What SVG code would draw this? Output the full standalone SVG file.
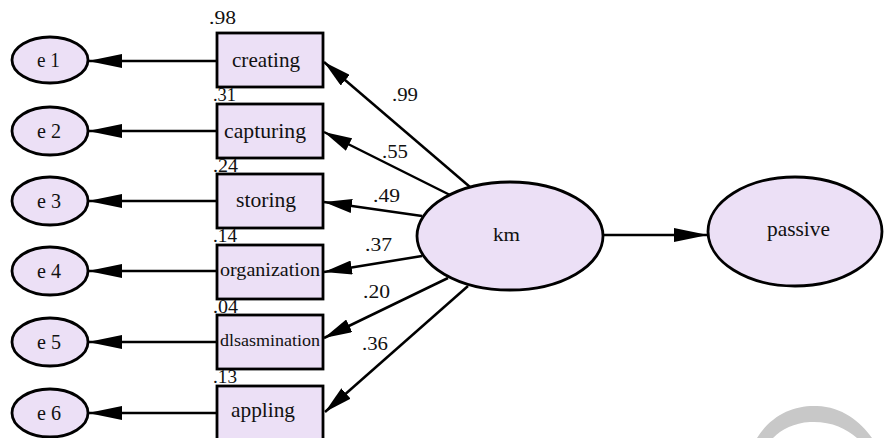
<svg xmlns="http://www.w3.org/2000/svg" width="885" height="438" viewBox="0 0 885 438">
<defs>
<style>
.n{fill:#ece0f6;stroke:#000;stroke-width:2.8}
.c line{stroke:#000;stroke-width:2.5}
.t{font-family:"Liberation Serif","Times New Roman",serif;font-size:18px;fill:#111}
.b{font-size:21px}
.big{marker-end:url(#ah)}
.sm{marker-end:url(#as)}
</style>
<marker id="ah" viewBox="0 0 34 14" markerWidth="34" markerHeight="14" refX="34" refY="7" orient="auto" markerUnits="userSpaceOnUse"><path d="M0,0 L34,7 L0,14 Z" fill="#000"/></marker>
<marker id="as" viewBox="0 0 28 14" markerWidth="28" markerHeight="14" refX="28" refY="7" orient="auto" markerUnits="userSpaceOnUse"><path d="M0,0 L28,7 L0,14 Z" fill="#000"/></marker>
</defs>
<rect width="885" height="438" fill="#fff"/>
<path d="M757,438 C772,414 795,405 817,406 C842,407 860,421 872,438 L857,438 C846,428 830,421 810,422 C794,423 782,429 773,438 Z" fill="#c8c8c8"/>
<g class="c">
<line class="big" x1="217" y1="61" x2="88" y2="61"/>
<line class="big" x1="217" y1="131" x2="88" y2="131"/>
<line class="big" x1="217" y1="201" x2="88" y2="201"/>
<line class="big" x1="217" y1="271" x2="88" y2="271"/>
<line class="big" x1="217" y1="342" x2="88" y2="342"/>
<line class="big" x1="217" y1="413" x2="88" y2="413"/>
<line class="sm" x1="470" y1="187" x2="324" y2="62"/>
<line class="sm" x1="450" y1="195" x2="324" y2="132"/>
<line class="sm" x1="422" y1="216" x2="324" y2="202"/>
<line class="sm" x1="422" y1="256" x2="324" y2="272"/>
<line class="sm" x1="448" y1="278" x2="324" y2="338"/>
<line class="sm" x1="468" y1="286" x2="325" y2="412"/>
<line class="big" x1="603" y1="235" x2="708" y2="235"/>
</g>
<g>
<text class="t" x="392" y="101" textLength="26" lengthAdjust="spacingAndGlyphs">.99</text>
<text class="t" x="382" y="158" textLength="26" lengthAdjust="spacingAndGlyphs">.55</text>
<text class="t" x="373" y="202" textLength="27" lengthAdjust="spacingAndGlyphs">.49</text>
<text class="t" x="365" y="251" textLength="27" lengthAdjust="spacingAndGlyphs">.37</text>
<text class="t" x="363" y="298" textLength="27" lengthAdjust="spacingAndGlyphs">.20</text>
<text class="t" x="362" y="350" textLength="26" lengthAdjust="spacingAndGlyphs">.36</text>
</g>
<g id="e1"><ellipse class="n" cx="50" cy="60" rx="38" ry="23"/><text class="t b" x="37" y="67" textLength="23" lengthAdjust="spacingAndGlyphs">e 1</text></g>
<g id="e2"><ellipse class="n" cx="50" cy="131" rx="38" ry="24"/><text class="t b" x="37" y="138" textLength="24" lengthAdjust="spacingAndGlyphs">e 2</text></g>
<g id="e3"><ellipse class="n" cx="50" cy="201" rx="38" ry="24"/><text class="t b" x="37" y="208" textLength="24" lengthAdjust="spacingAndGlyphs">e 3</text></g>
<g id="e4"><ellipse class="n" cx="50" cy="271" rx="38" ry="24"/><text class="t b" x="37" y="278" textLength="24" lengthAdjust="spacingAndGlyphs">e 4</text></g>
<g id="e5"><ellipse class="n" cx="50" cy="342" rx="38" ry="24"/><text class="t b" x="37" y="349" textLength="24" lengthAdjust="spacingAndGlyphs">e 5</text></g>
<g id="e6"><ellipse class="n" cx="50" cy="413" rx="38" ry="24"/><text class="t b" x="37" y="420" textLength="24" lengthAdjust="spacingAndGlyphs">e 6</text></g>
<g id="creating"><rect class="n" x="217" y="33" width="106" height="54"/><text class="t b" x="232" y="67" textLength="68" lengthAdjust="spacingAndGlyphs">creating</text><text class="t" x="209" y="24" textLength="27" lengthAdjust="spacingAndGlyphs">.98</text></g>
<g id="capturing"><rect class="n" x="217" y="104" width="106" height="54"/><text class="t b" x="224" y="138" textLength="82" lengthAdjust="spacingAndGlyphs">capturing</text><text class="t" x="213" y="101" textLength="23" lengthAdjust="spacingAndGlyphs">.31</text></g>
<g id="storing"><rect class="n" x="217" y="174" width="106" height="54"/><text class="t b" x="236" y="207" textLength="60" lengthAdjust="spacingAndGlyphs">storing</text><text class="t" x="213" y="172" textLength="25" lengthAdjust="spacingAndGlyphs">.24</text></g>
<g id="organization"><rect class="n" x="217" y="245" width="106" height="54"/><text class="t" x="220" y="276" textLength="100" lengthAdjust="spacingAndGlyphs" style="font-size:19px">organization</text><text class="t" x="213" y="242" textLength="24" lengthAdjust="spacingAndGlyphs">.14</text></g>
<g id="dlsasmination"><rect class="n" x="217" y="315" width="106" height="54"/><text class="t" x="220" y="346" textLength="100" lengthAdjust="spacingAndGlyphs" style="font-size:16px">dlsasmination</text><text class="t" x="213" y="313" textLength="25" lengthAdjust="spacingAndGlyphs">.04</text></g>
<g id="appling"><rect class="n" x="217" y="386" width="106" height="54"/><text class="t b" x="231" y="417" textLength="64" lengthAdjust="spacingAndGlyphs">appling</text><text class="t" x="213" y="383" textLength="24" lengthAdjust="spacingAndGlyphs">.13</text></g>
<g id="km"><ellipse class="n" cx="510" cy="236" rx="93" ry="54"/><text class="t" x="493" y="241" textLength="27" lengthAdjust="spacingAndGlyphs" style="font-size:19px">km</text></g>
<g id="passive"><ellipse class="n" cx="795" cy="231.5" rx="87" ry="54.5"/><text class="t b" x="767" y="236" textLength="63" lengthAdjust="spacingAndGlyphs">passive</text></g>
</svg>
